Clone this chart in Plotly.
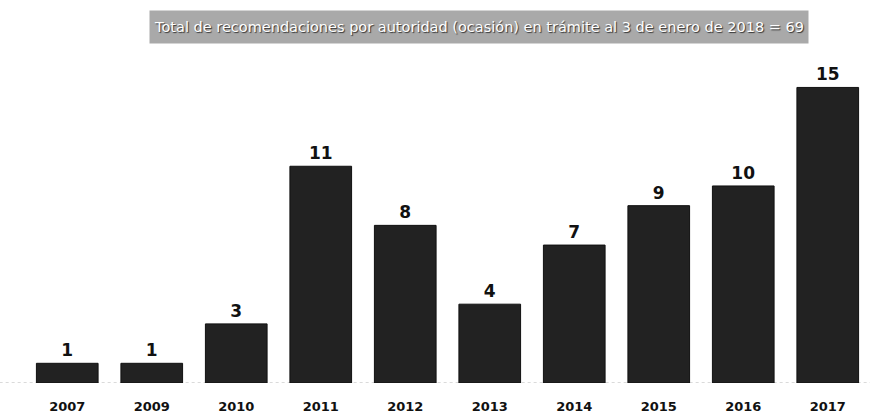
import plotly.graph_objects as go

# Recommendations per year still in process
years = ["2007", "2009", "2010", "2011", "2012", "2013", "2014", "2015", "2016", "2017"]
counts = [1, 1, 3, 11, 8, 4, 7, 9, 10, 15]
title_text = "Total de recomendaciones por autoridad (ocasión) en trámite al 3 de enero de 2018 = 69"

fig = go.Figure()
fig.add_trace(go.Bar(
    x=years,
    y=counts,
    width=0.73,
    marker=dict(color="#222222", line=dict(color="#111111", width=1)),
    text=[str(v) for v in counts],
    textposition="outside",
    cliponaxis=False,
    textfont=dict(family="DejaVu Sans", size=17, color="#111111", weight="bold"),
))

# dotted baseline
fig.add_shape(type="line", xref="paper", yref="y", x0=-0.03, x1=1.0, y0=0, y1=0,
              line=dict(color="#b5b5b5", width=1, dash="dot"), layer="below")

# banner with the total
fig.add_annotation(
    xref="paper", yref="paper", x=0.537, y=1.0, yanchor="bottom", yshift=6,
    text=title_text, showarrow=False,
    width=652, height=26, align="center", valign="middle",
    font=dict(family="DejaVu Sans", size=14.5, color="#ffffff", shadow="1px 1px 1px #333"),
    bgcolor="#a9a9a9", borderpad=3,
)

fig.update_layout(
    width=870, height=417,
    margin=dict(l=25, r=0, t=50, b=34),
    paper_bgcolor="white", plot_bgcolor="white",
    showlegend=False,
    xaxis=dict(type="category", showgrid=False, showline=False, zeroline=False, ticks="",
               ticklabelstandoff=14,
               tickfont=dict(family="DejaVu Sans", size=13, color="#111111", weight="bold")),
    yaxis=dict(range=[0, 16.9], showgrid=False, zeroline=False, showticklabels=False, showline=False),
)

fig.write_html("out.html")
